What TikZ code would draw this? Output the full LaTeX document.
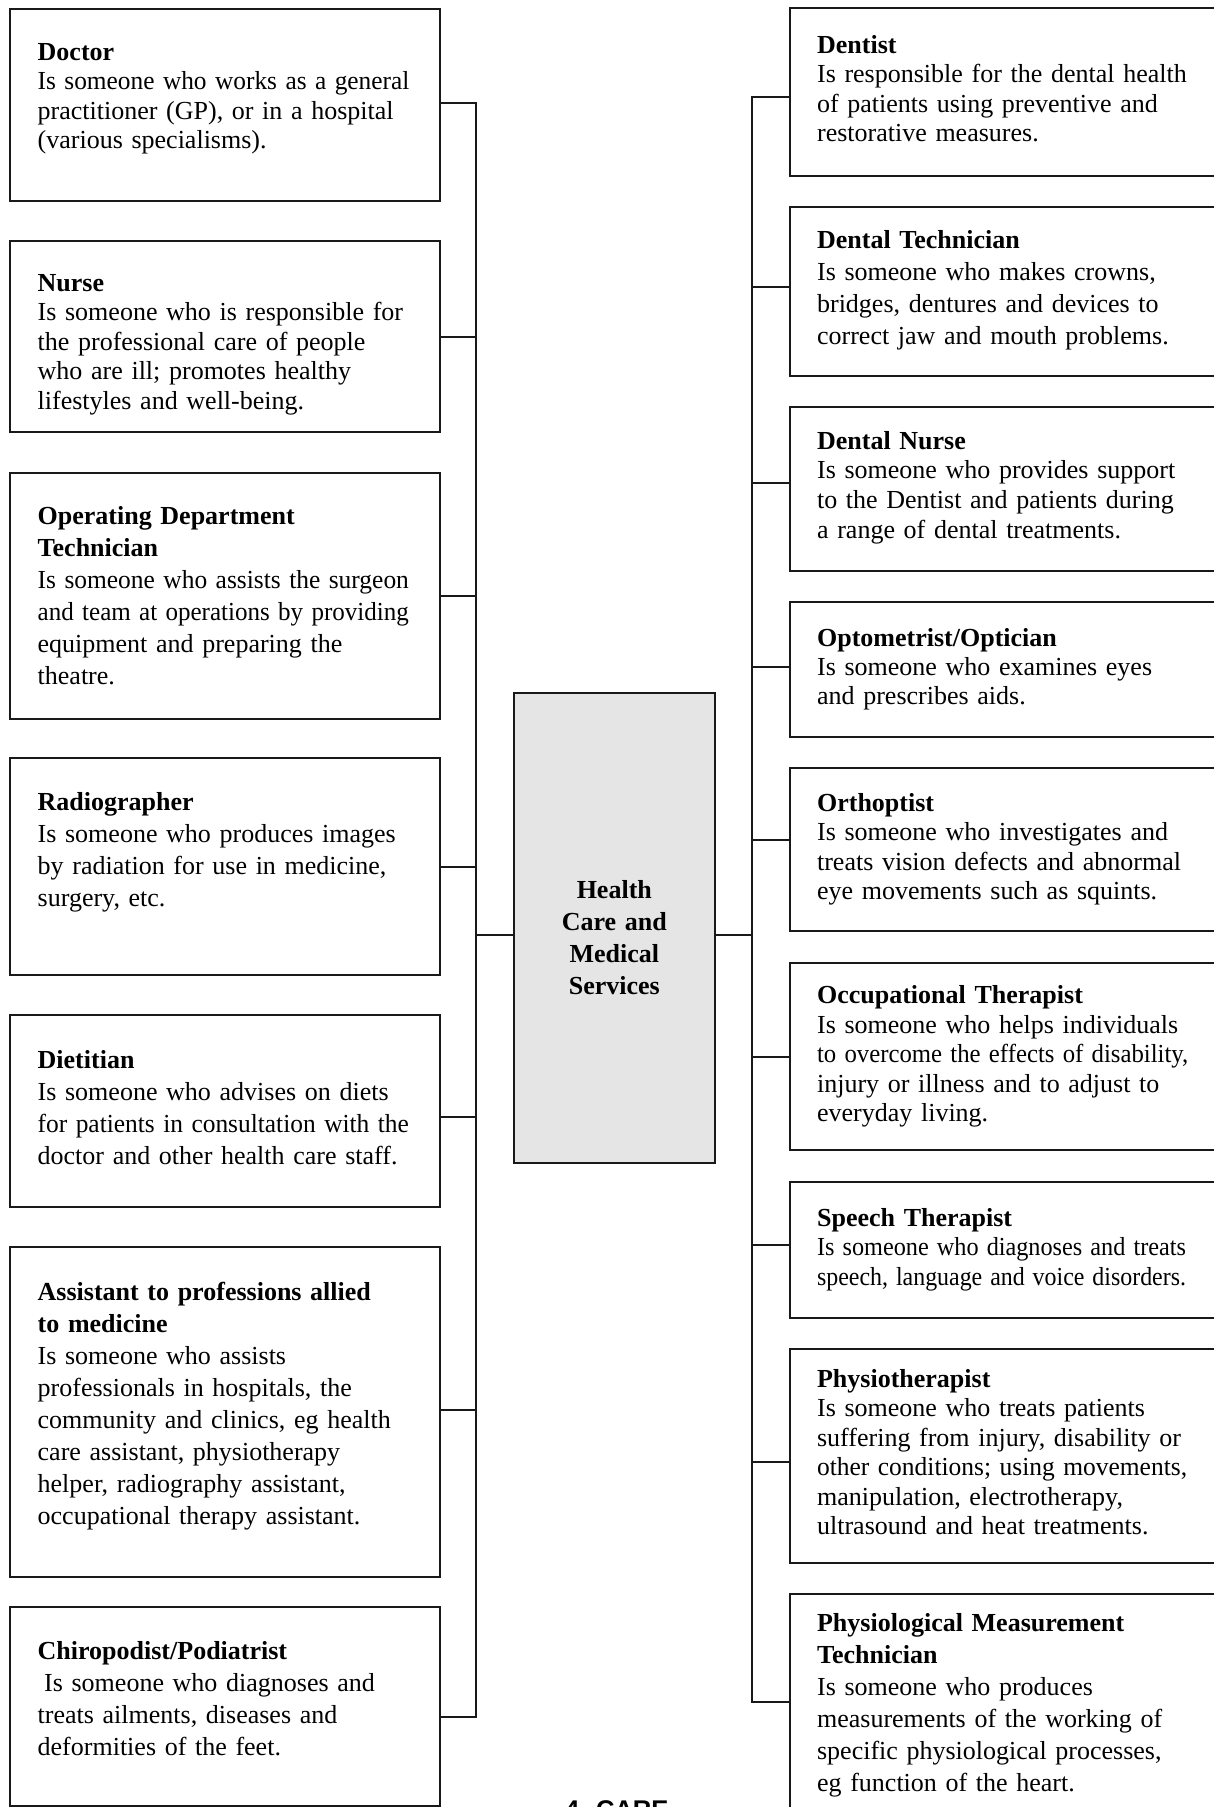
\documentclass[tikz,border=0pt]{standalone}
\usepackage{graphicx}
\usepackage{fontspec}
\setmainfont{Liberation Serif}
\newfontfamily\capfont{Liberation Sans}
\newcommand\fitw[2]{\resizebox{#1}{\height}{#2}}
\begin{document}
\begin{tikzpicture}[x=1pt,y=-1pt,
  box/.style={draw=black!90, line width=2pt, fill=white, align=left,
    anchor=north west, inner ysep=0pt, font=\fontsize{26}{29.5}\selectfont},
  loose/.style={font=\fontsize{26}{32}\selectfont},
  lbox/.style={box, text width=374.6pt, inner xsep=27.7pt},
  rbox/.style={box, text width=397pt, inner xsep=27.5pt},
  hub/.style={draw=black!90, line width=2pt, fill=black!10, anchor=north west,
    text width=200.6pt, inner sep=0pt, align=center,
    font=\bfseries\fontsize{26}{32}\selectfont},
  link/.style={line width=2pt, draw=black!90}
]
\useasboundingbox (0,0) rectangle (1214,1807);

% centre
\node[hub, text height=205.5pt, text depth=265pt] (hub) at (513,691.5)
  {Health\\Care and\\Medical\\Services};

% left column
\node[lbox, text height=51.5pt, text depth=141pt] (doctor) at (9,7.5)
  {\textbf{Doctor}\\\fitw{371.7pt}{Is someone who works as a general}\\practitioner (GP), or in a hospital\\(various specialisms).};
\node[lbox, text height=50.5pt, text depth=140.5pt] (nurse) at (9,239.5)
  {\textbf{Nurse}\\Is someone who is responsible for\\the professional care of people\\who are ill; promotes healthy\\lifestyles and well-being.};
\node[lbox, loose, text height=51.9pt, text depth=194pt] (odt) at (9,471.6)
  {\textbf{Operating Department}\\\textbf{Technician}\\\fitw{371.2pt}{Is someone who assists the surgeon}\\\fitw{371.2pt}{and team at operations by providing}\\equipment and preparing the\\theatre.};
\node[lbox, loose, text height=52.5pt, text depth=164.5pt] (radio) at (9,757)
  {\textbf{Radiographer}\\Is someone who produces images\\by radiation for use in medicine,\\surgery, etc.};
\node[lbox, loose, text height=52.7pt, text depth=138.5pt] (diet) at (9,1014.3)
  {\textbf{Dietitian}\\Is someone who advises on diets\\\fitw{371.2pt}{for patients in consultation with the}\\doctor and other health care staff.};
\node[lbox, loose, text height=52.7pt, text depth=277pt] (assist) at (9,1246.3)
  {\textbf{Assistant to professions allied}\\\textbf{to medicine}\\Is someone who assists\\professionals in hospitals, the\\community and clinics, eg health\\care assistant, physiotherapy\\helper, radiography assistant,\\occupational therapy assistant.};
\node[lbox, loose, text height=53.3pt, text depth=146.5pt] (chiro) at (9,1605.5)
  {\textbf{Chiropodist/Podiatrist}\\\hspace*{0.25em}Is someone who diagnoses and\\treats ailments, diseases and\\deformities of the feet.};

% right column
\node[rbox, text height=45pt, text depth=122.9pt] (dentist) at (788.6,7.3)
  {\textbf{Dentist}\\Is responsible for the dental health\\of patients using preventive and\\restorative measures.};
\node[rbox, loose, text height=40.9pt, text depth=127.4pt] (dtech) at (788.6,206.4)
  {\textbf{Dental Technician}\\Is someone who makes crowns,\\bridges, dentures and devices to\\correct jaw and mouth problems.};
\node[rbox, font=\fontsize{26}{29.7}\selectfont, text height=42.2pt, text depth=121.5pt] (dnurse) at (788.6,405.8)
  {\textbf{Dental Nurse}\\Is someone who provides support\\to the Dentist and patients during\\a range of dental treatments.};
\node[rbox, font=\fontsize{26}{29}\selectfont, text height=44.3pt, text depth=90.6pt] (optom) at (788.6,600.7)
  {\textbf{Optometrist/Optician}\\Is someone who examines eyes\\and prescribes aids.};
\node[rbox, text height=43.3pt, text depth=120.4pt] (ortho) at (788.6,766.7)
  {\textbf{Orthoptist}\\Is someone who investigates and\\treats vision defects and abnormal\\eye movements such as squints.};
\node[rbox, text height=41pt, text depth=146.9pt] (occ) at (788.6,961.5)
  {\textbf{Occupational Therapist}\\Is someone who helps individuals\\\fitw{371.2pt}{to overcome the effects of disability,}\\injury or illness and to adjust to\\everyday living.};
\node[rbox, text height=44.4pt, text depth=91.6pt] (speech) at (788.6,1180.6)
  {\textbf{Speech Therapist}\\\fitw{368.9pt}{Is someone who diagnoses and treats}\\\fitw{368.9pt}{speech, language and voice disorders.}};
\node[rbox, text height=38.7pt, text depth=175.8pt] (physio) at (788.6,1347.7)
  {\textbf{Physiotherapist}\\Is someone who treats patients\\suffering from injury, disability or\\\fitw{370pt}{other conditions; using movements,}\\manipulation, electrotherapy,\\ultrasound and heat treatments.};
\node[rbox, loose, text height=38.2pt, text depth=209.3pt] (pmt) at (788.6,1592.5)
  {\textbf{Physiological Measurement}\\\textbf{Technician}\\Is someone who produces\\measurements of the working of\\specific physiological processes,\\eg function of the heart.};

% spines
\coordinate (lspine) at (476,0);
\coordinate (rspine) at (751.7,0);

\draw[link] ([yshift=2.25pt]doctor.east) -- ([yshift=2.25pt]doctor.east -| lspine)
  -- ([yshift=-10.1pt]chiro.east -| lspine) -- ([yshift=-10.1pt]chiro.east);
\foreach \n/\s in {nurse/-0.5, odt/-0.45, radio/-0.5, diet/-6.1, assist/2.15}
  \draw[link] ([yshift=\s pt]\n.east) -- ([yshift=\s pt]\n.east -| lspine);
\draw[link] ([yshift=-7.15pt]hub.west) -- ([yshift=-7.15pt]hub.west -| lspine);

\draw[link] ([yshift=-4.45pt]dentist.west) -- ([yshift=-4.45pt]dentist.west -| rspine)
  -- ([yshift=15.75pt]pmt.west -| rspine) -- ([yshift=15.75pt]pmt.west);
\foreach \n/\s in {dtech/4.65, dnurse/5.75, optom/1.75, ortho/9.25, occ/-0.55, speech/4.6, physio/-5.75}
  \draw[link] ([yshift=\s pt]\n.west) -- ([yshift=\s pt]\n.west -| rspine);
\draw[link] ([yshift=-7.15pt]hub.east) -- ([yshift=-7.15pt]hub.east -| rspine);

% caption (cut by the page edge)
\node[anchor=base west, inner sep=0pt, font=\capfont\bfseries\fontsize{25.6}{30}\selectfont] (care) at (565,1818) {4. CARE};
\end{tikzpicture}
\end{document}
